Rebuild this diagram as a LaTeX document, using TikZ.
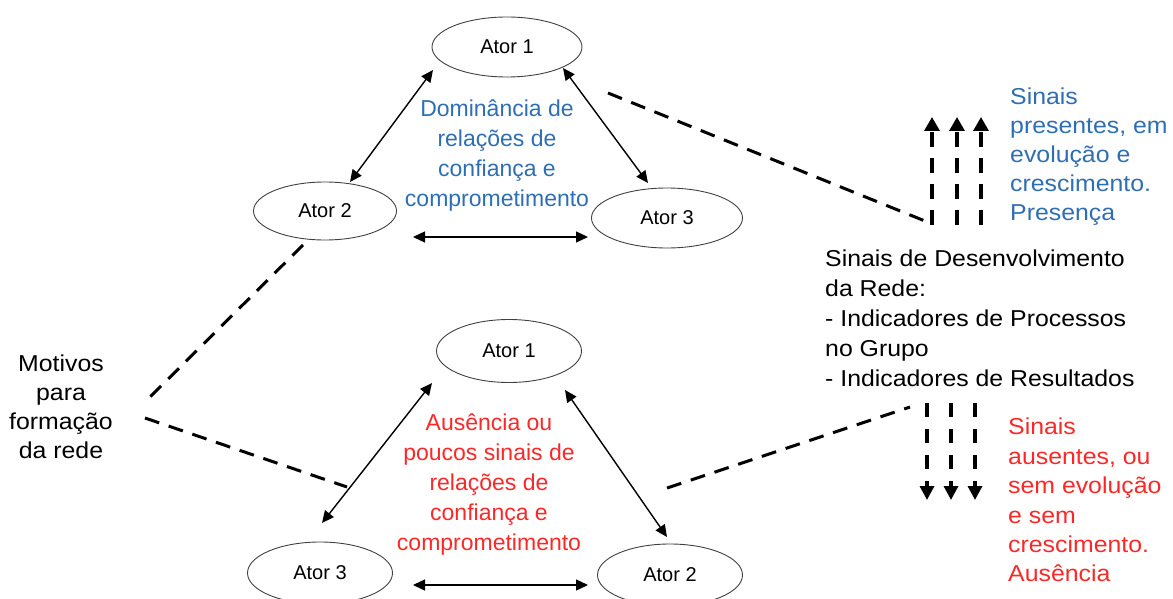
\documentclass[tikz,border=0pt]{standalone}
\usepackage{fontspec}
\setmainfont{Liberation Sans}
\newfontfamily\widefont[FakeStretch=1.08]{Liberation Sans}
\usetikzlibrary{shapes.geometric,arrows.meta,calc}
\definecolor{sigblue}{RGB}{47,110,178}
\definecolor{sigred}{RGB}{250,40,40}
\begin{document}
\begin{tikzpicture}[x=1pt,y=-1pt,
  actor/.style={ellipse,draw=black!75,line width=0.9pt,inner sep=0pt,
    font=\fontsize{20}{24}\selectfont},
  biarrow/.style={line width=1.4pt,{Triangle[length=12pt,width=11pt]}-{Triangle[length=12pt,width=11pt]}},
  thickdash/.style={line width=3pt,dash pattern=on 15pt off 10pt},
  uparrow/.style={line width=3.3pt,dash pattern=on 15pt off 11pt,-{Triangle[length=14pt,width=15pt]}},
  downarrow/.style={line width=3.3pt,dash pattern=on 14pt off 12pt,-{Triangle[length=14pt,width=14pt]}},
  bigtext/.style={inner sep=0pt,font=\fontsize{23}{30}\selectfont},
  widetext/.style={inner sep=0pt,align=left,anchor=north west}
]
\useasboundingbox (0,0) rectangle (1173,599);

% top network
\node[actor,minimum width=150pt,minimum height=60pt] (t1) at (507,47) {Ator 1};
\node[actor,minimum width=143pt,minimum height=58pt] (t2) at (325,211) {Ator 2};
\node[actor,minimum width=151pt,minimum height=60pt] (t3) at (667,218) {Ator 3};
\draw[biarrow] ($(t1)+(-74,23)$) -- ($(t2)+(25,-29)$);
\draw[biarrow] ($(t1)+(56,21)$) -- ($(t3)+(-19,-35)$);
\draw[biarrow] ($(t2)+(88,26)$) -- ($(t3)+(-79,19)$);
\node[bigtext,align=center,anchor=north,text=sigblue] (tdom) at (497,100)
  {Dominância de\\relações de\\confiança e\\comprometimento};

% bottom network
\node[actor,minimum width=145pt,minimum height=63pt] (b1) at (509,351) {Ator 1};
\node[actor,minimum width=145pt,minimum height=62pt] (b3) at (320,573) {Ator 3};
\node[actor,minimum width=145pt,minimum height=62pt] (b2) at (670,575) {Ator 2};
\draw[biarrow] ($(b1)+(-77,32)$) -- ($(b3)+(2,-50)$);
\draw[biarrow] ($(b1)+(56,39)$) -- ($(b2)+(-3,-38)$);
\draw[biarrow] ($(b3)+(93,12)$) -- ($(b2)+(-82,10)$);
\node[bigtext,align=center,anchor=north,text=sigred] (baus) at (489,414)
  {Ausência ou\\poucos sinais de\\relações de\\confiança e\\comprometimento};

% left text
\node[inner sep=0pt,align=center,anchor=north,
  font=\widefont\fontsize{23}{29}\selectfont] (mot) at (61,355)
  {Motivos\\para\\formação\\da rede};
\coordinate (m1) at (145,402);
\coordinate (m2) at (145,418);
\draw[thickdash] ($(t2)+(-22,34)$) -- (m1);
\draw[thickdash] (m2) -- (347,487);

% right: development signals
\node[widetext,font=\widefont\fontsize{23}{30}\selectfont] (dev) at (825,250)
  {Sinais de Desenvolvimento\\da Rede:\\- Indicadores de Processos\\no Grupo\\- Indicadores de Resultados};

\coordinate (u1) at (932,225);
\coordinate (u2) at (957,225);
\coordinate (u3) at (981,225);
\coordinate (u1t) at (932,117);
\coordinate (u2t) at (957,117);
\coordinate (u3t) at (981,117);
\draw[uparrow] (u1) -- (u1t);
\draw[uparrow] (u2) -- (u2t);
\draw[uparrow] (u3) -- (u3t);
\draw[thickdash] ($(t1)+(101,46)$) -- (925,221);

\coordinate (d1) at (927,403);
\coordinate (d2) at (951,403);
\coordinate (d3) at (975,403);
\coordinate (d1t) at (927,500);
\coordinate (d2t) at (951,500);
\coordinate (d3t) at (975,500);
\draw[downarrow] (d1) -- (d1t);
\draw[downarrow] (d2) -- (d2t);
\draw[downarrow] (d3) -- (d3t);
\draw[thickdash] ($(b2)+(-3,-87)$) -- (910,407);

\node[widetext,text=sigblue,font=\widefont\fontsize{23}{29}\selectfont] (pres) at (1010,88)
  {Sinais\\presentes, em\\evolução e\\crescimento.\\Presença};
\node[widetext,text=sigred,font=\widefont\fontsize{23}{29.4}\selectfont] (ause) at (1008,418)
  {Sinais\\ausentes, ou\\sem evolução\\e sem\\crescimento.\\Ausência};
\end{tikzpicture}
\end{document}
